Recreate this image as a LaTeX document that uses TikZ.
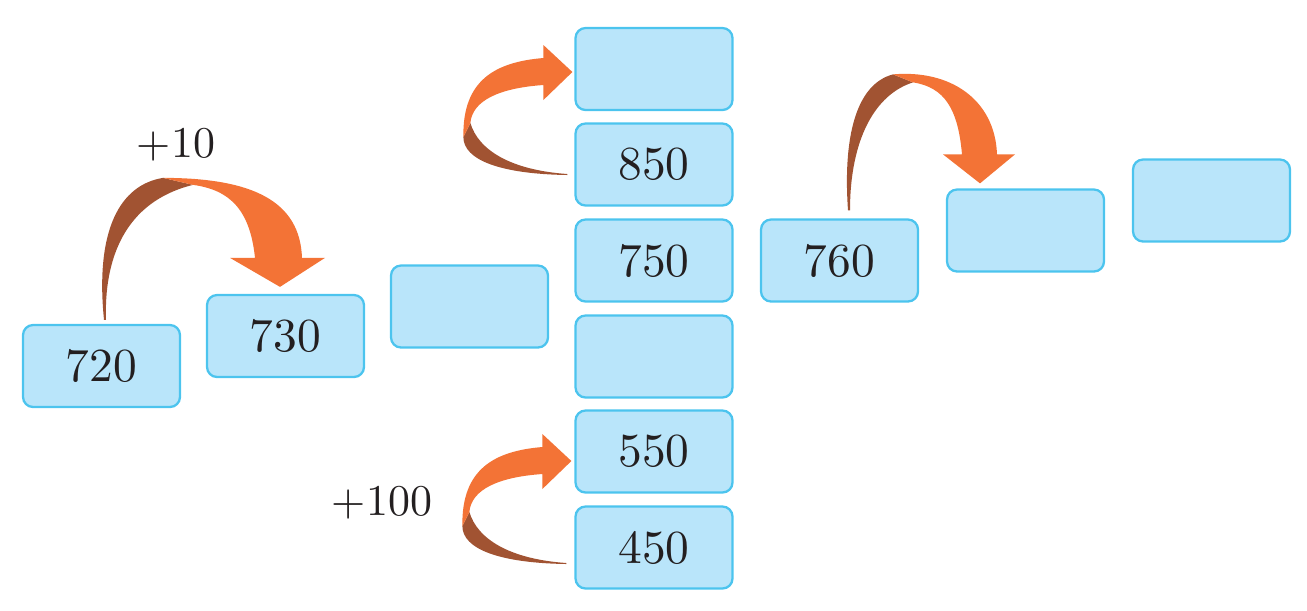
\documentclass[tikz,border=0pt]{standalone}
\usepackage{fontspec}
\usepackage{xcolor}
\usetikzlibrary{calc}
\newfontfamily\numfont{lmroman10-regular.otf}
\definecolor{boxblue}{RGB}{185,229,250}
\definecolor{boxedge}{RGB}{76,196,238}
\definecolor{hoporange}{RGB}{243,115,54}
\definecolor{hopbrown}{RGB}{161,83,50}
\definecolor{inkgray}{RGB}{35,31,32}

% ribbon arrows, origin at the tail
\tikzset{
  hopover/.pic={
    \fill[hopbrown] (0,0) .. controls (-9,-90) and (16,-135) .. (59,-142)
      -- (89,-135) .. controls (20,-118) and (0,-60) .. (2,0) -- cycle;
    \fill[hoporange] (59,-142) .. controls (150,-142) and (196,-118) .. (198,-62)
      -- (221,-62) -- (176,-33) -- (126,-62) -- (151,-62)
      .. controls (146,-110) and (126,-130) .. (89,-135) -- cycle;
  },
  hopup/.pic={
    \fill[hopbrown] (0,0) .. controls (-5,-71) and (7,-126) .. (45,-136)
      -- (65,-128) .. controls (27,-116) and (2,-71) .. (2,0) -- cycle;
    \fill[hoporange] (45,-136) .. controls (102,-141) and (147,-111) .. (149,-56)
      -- (167,-56) -- (132,-27) -- (95,-56) -- (114,-56)
      .. controls (110,-101) and (97,-123) .. (65,-128) -- cycle;
  },
  hoploop/.pic={
    \fill[hopbrown] (-104,-38) .. controls (-104,-15) and (-67,-1) .. (0,0)
      -- (0,-1) .. controls (-57,-5) and (-89,-25) .. (-97,-52) -- cycle;
    \fill[hoporange] (-24,-117) .. controls (-72,-113) and (-105,-95) .. (-104,-38)
      -- (-97,-52) .. controls (-95,-75) and (-67,-87) .. (-24,-90)
      -- (-24,-75) -- (5,-103) -- (-24,-130) -- cycle;
  }
}

\begin{document}
\begin{tikzpicture}[x=0.02cm, y=-0.02cm,
  numbox/.style={draw=boxedge, fill=boxblue, line width=1.3pt, rounded corners=0.2cm,
                 minimum width=3.14cm, minimum height=1.64cm, inner sep=0pt,
                 text=inkgray, font=\numfont\fontsize{27}{32}\selectfont},
  steplabel/.style={text=inkgray, font=\numfont\fontsize{25}{30}\selectfont}
]
\useasboundingbox (0,0) rectangle (1307,610);
\node[numbox] (n720) at (101.5,366) {720};
\node[numbox] (n730) at (285.5,336) {730};
\node[numbox] (b730) at (469.5,306.5) {};
\node[numbox] (c950) at (654,69) {};
\node[numbox] (n850) at (654,164.5) {850};
\node[numbox] (n750) at (654,260.5) {750};
\node[numbox] (c650) at (654,356.5) {};
\node[numbox] (n550) at (654,451.5) {550};
\node[numbox] (n450) at (654,547.5) {450};
\node[numbox] (n760) at (839.5,260.5) {760};
\node[numbox] (d770) at (1025.5,230.5) {};
\node[numbox] (d780) at (1211.5,200.5) {};
\pic at ($(n720.north)+(2.5,-4)$) {hopover};
\pic at ($(n760.north)+(8.5,-8)$) {hopup};
\pic at ($(n850.west)+(-7,10.5)$) {hoploop};
\pic at ($(n450.west)+(-8,16.5)$) {hoploop};
\node[steplabel] (l10) at (176,145) {+10};
\node[steplabel] (l100) at (382,503) {+100};
\end{tikzpicture}
\end{document}
